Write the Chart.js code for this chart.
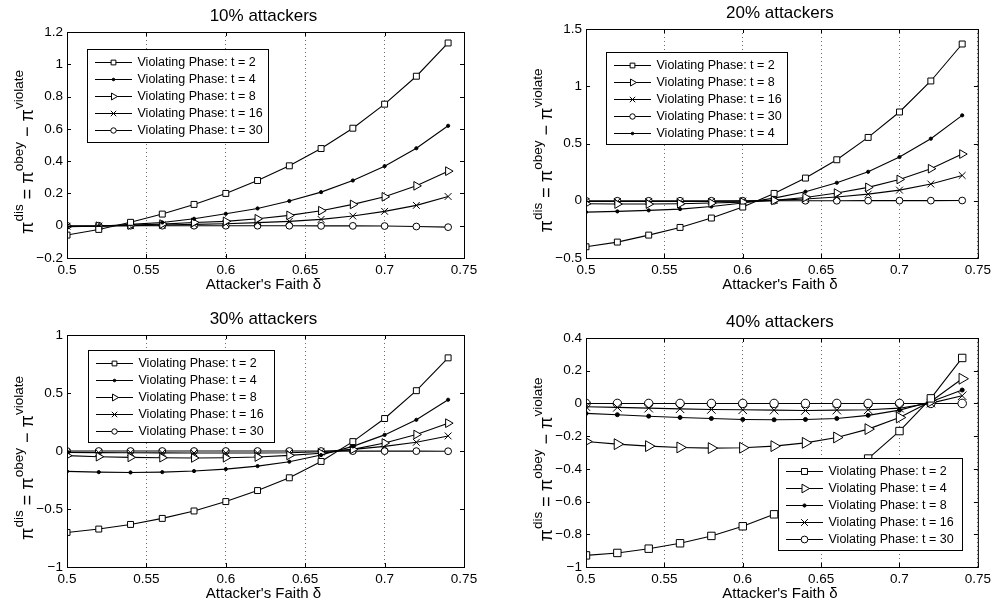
<!DOCTYPE html>
<html>
<head>
<meta charset="utf-8">
<script src="https://cdn.jsdelivr.net/npm/chart.js"></script>
<style>
  body { margin: 0; background: #fff; }
  #wrap { position: relative; width: 995px; height: 604px; }
  canvas { position: absolute; }
</style>
</head>
<body>
<div id="wrap">
  <canvas id="c10" width="497" height="302" style="left:0;top:0"></canvas>
  <canvas id="c20" width="498" height="302" style="left:497px;top:0"></canvas>
  <canvas id="c30" width="497" height="302" style="left:0;top:302px"></canvas>
  <canvas id="c40" width="498" height="302" style="left:497px;top:302px"></canvas>
</div>
<script>
// attacker's faith delta (x values, same for every panel)
const faith = [0.5, 0.52, 0.54, 0.56, 0.58, 0.6, 0.62, 0.64, 0.66, 0.68, 0.7, 0.72, 0.74];
const xTicks = [0.5, 0.55, 0.6, 0.65, 0.7, 0.75];

// 10% attackers
const a10_t2  = [-0.058, -0.023, 0.021, 0.072, 0.132, 0.2, 0.28, 0.371, 0.478, 0.604, 0.753, 0.926, 1.132];
const a10_t4  = [-0.006, -0.003, 0.008, 0.02, 0.043, 0.074, 0.107, 0.153, 0.208, 0.28, 0.369, 0.48, 0.619];
const a10_t8  = [-0.005, -0.003, 0.004, 0.01, 0.02, 0.027, 0.043, 0.064, 0.093, 0.132, 0.179, 0.247, 0.338];
const a10_t16 = [-0.003, -0.002, 0, 0.004, 0.008, 0.012, 0.019, 0.027, 0.039, 0.06, 0.089, 0.126, 0.181];
const a10_t30 = [0, 0, 0, 0, 0, 0, 0, 0, -0.001, -0.001, -0.002, -0.005, -0.009];
const yTicks10 = [-0.2, 0, 0.2, 0.4, 0.6, 0.8, 1, 1.2];

// 20% attackers
const a20_t2  = [-0.402, -0.361, -0.3, -0.233, -0.151, -0.055, 0.064, 0.198, 0.358, 0.553, 0.775, 1.046, 1.369];
const a20_t4  = [-0.099, -0.093, -0.084, -0.073, -0.05, -0.02, 0.023, 0.079, 0.157, 0.253, 0.382, 0.542, 0.746];
const a20_t8  = [-0.026, -0.029, -0.029, -0.026, -0.02, -0.012, 0.003, 0.029, 0.067, 0.117, 0.186, 0.28, 0.408];
const a20_t16 = [-0.006, -0.007, -0.007, -0.007, -0.006, -0.003, 0.003, 0.015, 0.033, 0.058, 0.093, 0.146, 0.221];
const a20_t30 = [0, 0, 0, 0, 0, 0, 0, 0, 0, 0.001, 0.001, 0.001, 0.002];
const yTicks20 = [-0.5, 0, 0.5, 1, 1.5];

// 30% attackers
const a30_t2  = [-0.702, -0.673, -0.633, -0.581, -0.517, -0.436, -0.341, -0.231, -0.09, 0.081, 0.28, 0.52, 0.803];
const a30_t4  = [-0.176, -0.182, -0.185, -0.182, -0.173, -0.156, -0.13, -0.092, -0.035, 0.04, 0.139, 0.269, 0.442];
const a30_t8  = [-0.04, -0.049, -0.055, -0.058, -0.06, -0.058, -0.052, -0.038, -0.02, 0.014, 0.069, 0.142, 0.24];
const a30_t16 = [-0.012, -0.014, -0.015, -0.016, -0.017, -0.017, -0.017, -0.015, -0.006, 0.014, 0.04, 0.075, 0.13];
const a30_t30 = [0, 0, 0, 0, 0, 0, 0, 0, 0, -0.001, -0.001, -0.001, -0.002];
const yTicks30 = [-1, -0.5, 0, 0.5, 1];

// 40% attackers
const a40_t2  = [-0.929, -0.914, -0.888, -0.855, -0.81, -0.751, -0.678, -0.588, -0.478, -0.337, -0.169, 0.031, 0.278];
const a40_t4  = [-0.233, -0.249, -0.261, -0.269, -0.273, -0.271, -0.261, -0.241, -0.208, -0.157, -0.086, 0.012, 0.151];
const a40_t8  = [-0.061, -0.069, -0.078, -0.086, -0.092, -0.098, -0.1, -0.098, -0.092, -0.073, -0.041, 0.01, 0.082];
const a40_t16 = [-0.02, -0.024, -0.029, -0.033, -0.037, -0.039, -0.041, -0.043, -0.041, -0.039, -0.029, 0.002, 0.047];
const a40_t30 = [0, 0, 0, 0, 0, 0, 0, 0, 0, 0, 0, 0, 0];
const yTicks40 = [-1, -0.8, -0.6, -0.4, -0.2, 0, 0.2, 0.4];

const FONT = "'Liberation Sans', Arial, Helvetica, sans-serif";

// matlab-ish markers
const MARK = {
    sq:  { pointStyle: 'rect', r: 4.2, fill: '#fff' },
    dot: { pointStyle: 'circle', r: 1.6, fill: '#000' },
    tri: { pointStyle: 'triangle', r: 5, rot: 90, fill: '#fff' },
    x:   { pointStyle: 'crossRot', r: 4.8, fill: '#000' },
    o:   { pointStyle: 'circle', r: 3.4, fill: '#fff' }
};

const panels = [
    { id: 'c10', title: '10% attackers', yTicks: yTicks10, area: { l: 67, t: 32, r: 464, b: 258 },
      legend: { x: 87, y: 49, w: 181, h: 93 }, mk: 1,
      series: [[a10_t2, 'sq', 't = 2'], [a10_t4, 'dot', 't = 4'], [a10_t8, 'tri', 't = 8'], [a10_t16, 'x', 't = 16'], [a10_t30, 'o', 't = 30']] },
    { id: 'c20', title: '20% attackers', yTicks: yTicks20, area: { l: 89, t: 29, r: 486, b: 258 },
      legend: { x: 109, y: 52, w: 181, h: 92 }, mk: 1,
      series: [[a20_t2, 'sq', 't = 2'], [a20_t8, 'tri', 't = 8'], [a20_t16, 'x', 't = 16'], [a20_t30, 'o', 't = 30'], [a20_t4, 'dot', 't = 4']] },
    { id: 'c30', title: '30% attackers', yTicks: yTicks30, area: { l: 67, t: 33, r: 464, b: 265 },
      legend: { x: 88, y: 48, w: 186, h: 92 }, mk: 1,
      series: [[a30_t2, 'sq', 't = 2'], [a30_t4, 'dot', 't = 4'], [a30_t8, 'tri', 't = 8'], [a30_t16, 'x', 't = 16'], [a30_t30, 'o', 't = 30']] },
    { id: 'c40', title: '40% attackers', yTicks: yTicks40, area: { l: 89, t: 36, r: 486, b: 265 },
      legend: { x: 281, y: 156, w: 184, h: 92 }, mk: 1.25,
      series: [[a40_t2, 'sq', 't = 2'], [a40_t4, 'tri', 't = 4'], [a40_t8, 'dot', 't = 8'], [a40_t16, 'x', 't = 16'], [a40_t30, 'o', 't = 30']] }
];

const fmt = v => String(+(+v).toFixed(2)).replace('-', '\u2212');

// y label with superscripts, drawn rotated
const drawYLabel = (ctx, x, y) => {
    const parts = [['π', 0], ['dis', 1], [' = ', 0], ['π', 0], ['obey', 1], [' \u2212 ', 0], ['π', 0], ['violate', 1]];
    const font = s => s ? `13.5px ${FONT}` : `18px ${FONT}`;
    let total = 0;
    const w = parts.map(([t, s]) => { ctx.font = font(s); const m = ctx.measureText(t).width; total += m; return m; });
    ctx.save();
    ctx.translate(x, y);
    ctx.rotate(-Math.PI / 2);
    ctx.fillStyle = '#000';
    ctx.textBaseline = 'alphabetic';
    ctx.textAlign = 'left';
    let pos = -total / 2;
    parts.forEach(([t, s], i) => {
        ctx.font = font(s);
        ctx.fillText(t, pos, s ? -10.5 : 0);
        pos += w[i];
    });
    ctx.restore();
};

const drawLegend = (chart, box) => {
    const ctx = chart.ctx;
    ctx.save();
    ctx.fillStyle = '#fff';
    ctx.fillRect(box.x, box.y, box.w, box.h);
    ctx.strokeStyle = '#000';
    ctx.lineWidth = 1;
    ctx.strokeRect(box.x + 0.5, box.y + 0.5, box.w, box.h);
    chart.data.datasets.forEach((ds, i) => {
        const cy = Math.round(box.y + 12.5 + i * 17.1) + 0.5;
        ctx.strokeStyle = '#000';
        ctx.lineWidth = 1;
        ctx.beginPath();
        ctx.moveTo(box.x + 8, cy);
        ctx.lineTo(box.x + 45, cy);
        ctx.stroke();
        if (Chart.helpers && Chart.helpers.drawPoint) {
            ctx.fillStyle = ds.pointBackgroundColor;
            Chart.helpers.drawPoint(ctx, {
                pointStyle: ds.pointStyle, rotation: ds.pointRotation || 0,
                radius: ds.pointRadius * 0.8, borderWidth: 1
            }, box.x + 26.5, cy);
        }
        ctx.fillStyle = '#000';
        ctx.font = `12.5px ${FONT}`;
        ctx.textBaseline = 'middle';
        ctx.textAlign = 'left';
        ctx.fillText(ds.label, box.x + 50.5, cy);
    });
    ctx.restore();
};

// box, inward ticks, titles, labels, legend
const matlabAxes = {
    id: 'matlabAxes',
    afterDraw(chart, args, opts) {
        const { ctx, chartArea: a, scales } = chart;
        ctx.save();
        ctx.strokeStyle = '#000';
        ctx.lineWidth = 1;
        ctx.strokeRect(a.left + 0.5, a.top + 0.5, a.right - a.left, a.bottom - a.top);
        ctx.beginPath();
        scales.x.ticks.forEach(tk => {
            const px = Math.round(scales.x.getPixelForValue(tk.value)) + 0.5;
            ctx.moveTo(px, a.bottom); ctx.lineTo(px, a.bottom - 4);
            ctx.moveTo(px, a.top); ctx.lineTo(px, a.top + 4);
        });
        scales.y.ticks.forEach(tk => {
            const py = Math.round(scales.y.getPixelForValue(tk.value)) + 0.5;
            ctx.moveTo(a.left, py); ctx.lineTo(a.left + 4, py);
            ctx.moveTo(a.right, py); ctx.lineTo(a.right - 4, py);
        });
        ctx.stroke();

        const cx = (a.left + a.right) / 2;
        ctx.fillStyle = '#000';
        ctx.textAlign = 'center';
        ctx.textBaseline = 'middle';
        ctx.font = `17px ${FONT}`;
        ctx.fillText(opts.title, cx - 2, a.top - 16);
        ctx.font = `15px ${FONT}`;
        ctx.fillText("Attacker's Faith δ", cx - 2, a.bottom + 27);
        ctx.restore();

        drawYLabel(ctx, a.left - 34, (a.top + a.bottom) / 2 + 7);
        drawLegend(chart, opts.legend);
    }
};

const makePanel = p => {
    const canvas = document.getElementById(p.id);
    const W = canvas.width, H = canvas.height;
    const datasets = p.series.map(([vals, m, lab]) => {
        const mk = MARK[m];
        return {
            label: 'Violating Phase: ' + lab,
            data: faith.map((x, i) => ({ x, y: vals[i] })),
            borderColor: '#000',
            borderWidth: 1.1,
            tension: 0,
            pointStyle: mk.pointStyle,
            pointRotation: mk.rot || 0,
            pointRadius: mk.r * p.mk,
            pointBackgroundColor: mk.fill,
            pointBorderColor: '#000',
            pointBorderWidth: 1
        };
    });
    new Chart(canvas, {
        type: 'line',
        data: { datasets },
        options: {
            responsive: false,
            animation: false,
            events: [],
            layout: { padding: { left: 0, top: p.area.t, right: W - p.area.r, bottom: 0 } },
            scales: {
                x: {
                    type: 'linear', min: 0.5, max: 0.75,
                    afterBuildTicks: s => { s.ticks = xTicks.map(v => ({ value: v })); },
                    afterFit: s => { s.height = H - p.area.b; },
                    ticks: { autoSkip: false, maxRotation: 0, padding: 4, color: '#000',
                             font: { family: FONT, size: 13.5 }, callback: fmt },
                    grid: { display: true, color: '#444', lineWidth: 0.8, drawTicks: false },
                    border: { display: false, dash: [1, 3] }
                },
                y: {
                    type: 'linear', min: p.yTicks[0], max: p.yTicks[p.yTicks.length - 1],
                    afterBuildTicks: s => { s.ticks = p.yTicks.map(v => ({ value: v })); },
                    afterFit: s => { s.width = p.area.l; },
                    ticks: { autoSkip: false, padding: 4, color: '#000',
                             font: { family: FONT, size: 13.5 }, callback: fmt },
                    grid: { display: false, drawTicks: false },
                    border: { display: false }
                }
            },
            plugins: {
                legend: { display: false },
                tooltip: { enabled: false },
                matlabAxes: { title: p.title, legend: p.legend }
            }
        },
        plugins: [matlabAxes]
    });
};

panels.forEach(makePanel);
</script>
</body>
</html>
